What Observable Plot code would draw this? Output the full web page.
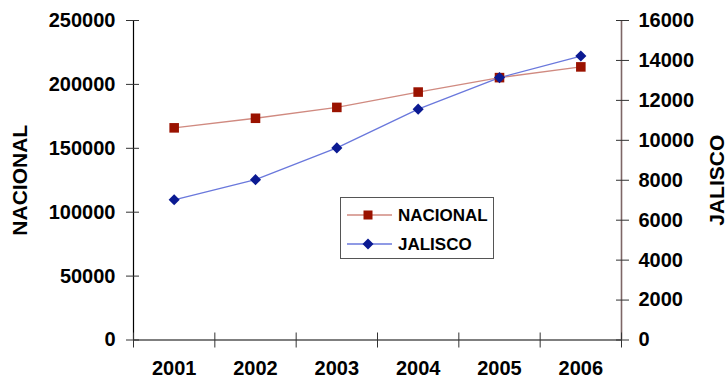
<!DOCTYPE html>
<html>
<head>
<meta charset="utf-8">
<script src="https://cdn.jsdelivr.net/npm/d3@7"></script>
<script src="https://cdn.jsdelivr.net/npm/@observablehq/plot@0.6"></script>
<style>
  html, body { margin: 0; padding: 0; background: #fff; }
  #wrap { position: relative; width: 727px; height: 380px; font-family: "Liberation Sans", Arial, sans-serif; }
  #legend { position: absolute; left: 340px; top: 197px; width: 154px; height: 62px; border: 1px solid #555; background: #fff; box-sizing: border-box; }
  #legend svg { position: absolute; left: 0; top: 0; }
</style>
</head>
<body>
<div id="wrap"></div>
<script>
const years = [2001, 2002, 2003, 2004, 2005, 2006];
const nacional = [166000, 173500, 182000, 194000, 205300, 213700];
const jalisco = [7020, 8030, 9620, 11560, 13140, 14220];
const leftTicks = [0, 50000, 100000, 150000, 200000, 250000];
const rightTicks = [0, 2000, 4000, 6000, 8000, 10000, 12000, 14000, 16000];
const seriesNames = ["NACIONAL", "JALISCO"];

const leftMax = 250000, rightMax = 16000;
const factor = leftMax / rightMax;
const xDomain = [years[0] - 0.5, years[years.length - 1] + 0.5];
const bounds = d3.range(years.length + 1).map(i => xDomain[0] + i);

const nat = years.map((y, i) => ({year: y, value: nacional[i]}));
const jal = years.map((y, i) => ({year: y, value: jalisco[i]}));

const redLine = "#d08a80", redMark = "#9a1200";
const blueLine = "#6a78dc", blueMark = "#0b1a92";
const fmt = d => `${d}`;

const chart = Plot.plot({
  width: 727, height: 380,
  marginLeft: 133, marginRight: 106, marginTop: 20, marginBottom: 40.5,
  style: {fontFamily: "Liberation Sans, Arial, sans-serif", fontWeight: "bold", fontSize: "20px", color: "#000", background: "transparent"},
  x: {type: "linear", domain: xDomain},
  y: {type: "linear", domain: [0, leftMax]},
  marks: [
    Plot.ruleY([0], {x1: xDomain[0], x2: xDomain[1], stroke: "#000", strokeWidth: 1.2}),
    Plot.ruleX([xDomain[0]], {y1: 0, y2: leftMax, stroke: "#000", strokeWidth: 1.2}),
    Plot.ruleX([xDomain[1]], {y1: 0, y2: leftMax, stroke: "#7d6666", strokeWidth: 1.6}),
    Plot.axisY({anchor: "left", ticks: leftTicks, tickFormat: fmt, tickSize: 13, dx: 6, tickPadding: 11, label: null, stroke: "#333"}),
    Plot.axisY({anchor: "right", ticks: rightTicks.map(v => v * factor), tickFormat: d => fmt(Math.round(d / factor)), tickSize: 13, dx: -6, tickPadding: 10, textAnchor: "start", label: null, stroke: "#333"}),
    Plot.axisX({ticks: bounds, tickSize: 15, dy: -7, text: null, label: null, stroke: "#333"}),
    Plot.axisX({ticks: years, tickSize: 0, tickPadding: 21, tickFormat: fmt, label: null}),
    Plot.text([seriesNames[0]], {frameAnchor: "left", textAnchor: "middle", dx: -113, rotate: -90, fontSize: 21, fontWeight: "bold", fill: "#000"}),
    Plot.text([seriesNames[1]], {frameAnchor: "right", textAnchor: "middle", dx: 96, rotate: -90, fontSize: 21, fontWeight: "bold", fill: "#000"}),
    Plot.line(nat, {x: "year", y: "value", stroke: redLine, strokeWidth: 1.3}),
    Plot.line(jal, {x: "year", y: d => d.value * factor, stroke: blueLine, strokeWidth: 1.3}),
    Plot.dot(nat, {x: "year", y: "value", symbol: "square", r: 5.4, fill: redMark, stroke: "none"}),
    Plot.dot(jal, {x: "year", y: d => d.value * factor, symbol: "diamond2", r: 5, fill: blueMark, stroke: "none"})
  ]
});

const wrap = document.getElementById("wrap");
wrap.appendChild(chart);

const legend = document.createElement("div");
legend.id = "legend";
const rows = [
  {name: seriesNames[0], line: redLine, mark: redMark, shape: "square"},
  {name: seriesNames[1], line: blueLine, mark: blueMark, shape: "diamond"}
];
let svg = `<svg width="154" height="62" xmlns="http://www.w3.org/2000/svg">`;
rows.forEach((r, i) => {
  const cy = 17 + i * 29;
  svg += `<line x1="6" x2="51" y1="${cy}" y2="${cy}" stroke="${r.line}" stroke-width="1.5"/>`;
  if (r.shape === "square") svg += `<rect x="${27 - 4.5}" y="${cy - 4.5}" width="9" height="9" fill="${r.mark}"/>`;
  else svg += `<path d="M27,${cy - 5.5}L32.5,${cy}L27,${cy + 5.5}L21.5,${cy}Z" fill="${r.mark}"/>`;
  svg += `<text x="57" y="${cy + 6}" font-family="Liberation Sans, Arial, sans-serif" font-weight="bold" font-size="17" fill="#000">${r.name}</text>`;
});
svg += `</svg>`;
legend.innerHTML = svg;
wrap.appendChild(legend);
</script>
</body>
</html>
